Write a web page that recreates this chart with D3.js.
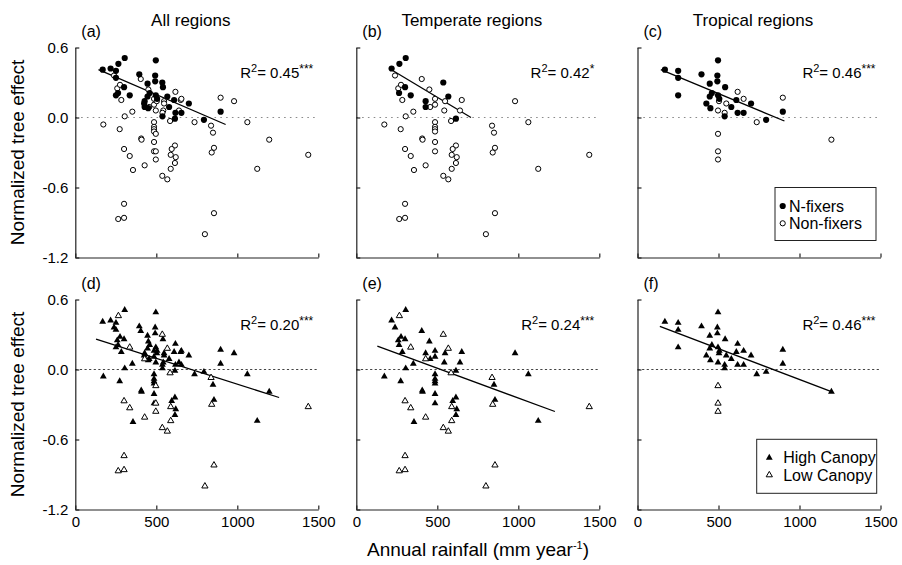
<!DOCTYPE html>
<html><head><meta charset="utf-8">
<script src="https://cdn.jsdelivr.net/npm/d3@7"></script>
<style>body{margin:0;background:#fff} text{font-family:Arial,"Liberation Sans",sans-serif;fill:#000}</style>
</head><body><svg id="c" width="902" height="565"></svg>
<script>
// ---------------- data ----------------
// temperate sites
const teRain   = [218,266,305,537,264,301,336,428,428,568,615,
  239,404,451,259,284,276,486,456,486,548,543,651,640,352,305,585,980,173,274,486,486,486,486,1062,838,850,407,409,486,615,595,589,620,615,589,537,568,301,336,486,428,356,856,842,1123,1438,301,265,301,856,800];
const teEffect = [0.42,0.46,0.51,0.30,0.21,0.26,0.19,0.14,0.09,0.18,-0.01,
  0.36,0.33,0.24,0.25,0.15,0.28,0.16,0.09,0.11,0.14,0.06,0.15,0.06,0.05,0.01,-0.03,0.14,-0.06,-0.10,-0.04,-0.08,-0.10,-0.12,-0.04,-0.07,-0.13,-0.18,-0.19,-0.21,-0.24,-0.27,-0.32,-0.34,-0.39,-0.44,-0.50,-0.53,-0.27,-0.33,-0.29,-0.41,-0.45,-0.26,-0.30,-0.44,-0.32,-0.74,-0.87,-0.86,-0.82,-1.00];
const teFixer  = [1,1,1,1,1,1,1,1,1,1,1,
  0,0,0,0,0,0,0,0,0,0,0,0,0,0,0,0,0,0,0,0,0,0,0,0,0,0,0,0,0,0,0,0,0,0,0,0,0,0,0,0,0,0,0,0,0,0,0,0,0,0,0];
const teCanopy = ['H','L','H','L','H','H','L','H','L','L','H',
  'H','H','H','H','H','H','H','H','H','H','H','H','H','H','H','L','H','H','H','H','H','H','H','H','L','H','H','H','H','H','H','L','H','H','L','L','L','L','L','H','L','H','H','L','H','L','L','L','L','L','L'];
// tropical sites
const trRain   = [169,251,251,251,395,497,493,493,446,541,459,446,425,450,579,610,618,655,701,538,794,897,497,505,
  618,655,548,503,497,538,897,736,497,497,497,1197];
const trEffect = [0.41,0.40,0.34,0.19,0.37,0.49,0.36,0.31,0.29,0.26,0.21,0.18,0.12,0.08,0.09,0.15,0.04,0.04,0.12,0.01,-0.02,0.05,0.19,0.16,
  0.22,0.16,0.12,0.14,0.06,0.04,0.17,-0.04,-0.14,-0.29,-0.36,-0.19];
const trFixer  = [1,1,1,1,1,1,1,1,1,1,1,1,1,1,1,1,1,1,1,1,1,1,1,1,
  0,0,0,0,0,0,0,0,0,0,0,0];
const trCanopy = ['H','H','H','H','H','H','H','H','H','H','H','H','H','H','H','H','H','H','H','H','H','H','H','H',
  'H','H','H','H','H','H','H','H','L','L','L','H'];

const columnTitles = ['All regions','Temperate regions','Tropical regions'];
const panelLetters = ['(a)','(b)','(c)','(d)','(e)','(f)'];
const r2Values = ['0.45','0.42','0.46','0.20','0.24','0.46'];
const r2Stars  = ['***','*','***','***','***','***'];
// fitted regression lines (start/end)
const fitX0 = [143,204,144,128,130,138];
const fitY0 = [0.41,0.42,0.41,0.26,0.20,0.37];
const fitX1 = [928,708,907,1258,1226,1197];
const fitY1 = [-0.06,0.00,-0.03,-0.24,-0.36,-0.19];
const xTicks = [0,500,1000,1500];
const yTicks = [0.6,0.0,-0.6,-1.2];
const legendTop = ['N-fixers','Non-fixers'];
const legendBottom = ['High Canopy','Low Canopy'];

// ---------------- build ----------------
const sites = [];
teRain.forEach((r,i)=>sites.push({rain:r,eff:teEffect[i],fix:teFixer[i],can:teCanopy[i],reg:'Te'}));
trRain.forEach((r,i)=>sites.push({rain:r,eff:trEffect[i],fix:trFixer[i],can:trCanopy[i],reg:'Tr'}));

const svg = d3.select('#c');
const colX = [75.3,356.3,637.5];
const rowY = [47.5,299.5];
const W = 243, H = 210;
const x = d3.scaleLinear().domain([0,1500]).range([0,W]);
const y = d3.scaleLinear().domain([-1.2,0.6]).range([H,0]);
const triFilled = d3.symbol().type(d3.symbolTriangle).size(20)();
const triOpen = d3.symbol().type(d3.symbolTriangle).size(17)();

for (let row=0; row<2; row++) {
  for (let col=0; col<3; col++) {
    const k = row*3+col;
    const g = svg.append('g').attr('transform',`translate(${colX[col]},${rowY[row]})`);
    const data = sites.filter(s => col===0 || (col===1 ? s.reg==='Te' : s.reg==='Tr'));

    // zero reference line
    g.append('line').attr('x1',0).attr('x2',W).attr('y1',y(0)).attr('y2',y(0))
      .attr('stroke', row===0 ? '#8a8a8a' : '#444')
      .attr('stroke-width',1)
      .attr('stroke-dasharray', row===0 ? '1.6,4.2' : '2.2,2.4');

    // axes
    const ya = d3.axisLeft(y).tickValues(yTicks).tickSizeInner(-4).tickSizeOuter(0).tickPadding(7)
      .tickFormat(col===0 ? (d=>d.toFixed(1)) : '');
    const yg = g.append('g').call(ya);
    const xa = d3.axisBottom(x).tickValues(xTicks).tickSizeInner(-4).tickSizeOuter(0).tickPadding(7)
      .tickFormat(row===1 ? (d=>String(d)) : '');
    const xg = g.append('g').attr('transform',`translate(0,${H})`).call(xa);
    [yg,xg].forEach(a=>{
      a.selectAll('path,line').attr('stroke','#222').attr('stroke-width',1.2);
      a.selectAll('text').attr('font-size',15).attr('fill','#000').style('font-family','Arial,"Liberation Sans",sans-serif');
    });

    // regression line
    g.append('line').attr('x1',x(fitX0[k])).attr('y1',y(fitY0[k])).attr('x2',x(fitX1[k])).attr('y2',y(fitY1[k]))
      .attr('stroke','#000').attr('stroke-width',1.3);

    // points
    if (row===0) {
      g.selectAll('circle.o').data(data.filter(d=>!d.fix)).join('circle')
        .attr('cx',d=>x(d.rain)).attr('cy',d=>y(d.eff)).attr('r',2.6)
        .attr('fill','#fff').attr('stroke','#000').attr('stroke-width',1);
      g.selectAll('circle.f').data(data.filter(d=>d.fix)).join('circle')
        .attr('cx',d=>x(d.rain)).attr('cy',d=>y(d.eff)).attr('r',3.1)
        .attr('fill','#000');
    } else {
      g.selectAll('path.h').data(data.filter(d=>d.can==='H')).join('path')
        .attr('d',triFilled).attr('transform',d=>`translate(${x(d.rain)},${y(d.eff)})`).attr('fill','#000');
      g.selectAll('path.l').data(data.filter(d=>d.can==='L')).join('path')
        .attr('d',triOpen).attr('transform',d=>`translate(${x(d.rain)},${y(d.eff)})`)
        .attr('fill','#fff').attr('stroke','#000').attr('stroke-width',1);
    }

    // R2 text
    const t = g.append('text').attr('x',W-5).attr('y',30).attr('text-anchor','end').attr('font-size',15);
    t.append('tspan').text('R');
    t.append('tspan').attr('font-size',11).attr('dy',-6).text('2');
    t.append('tspan').attr('dy',6).text('= ' + r2Values[k]);
    t.append('tspan').attr('font-size',12).attr('dy',-5).text(r2Stars[k]);

    // panel letter
    g.append('text').attr('x',6).attr('y',-10.5).attr('font-size',16).text(panelLetters[k]);
    if (row===0) {
      g.append('text').attr('x',W/2 - 6).attr('y',-22).attr('text-anchor','middle').attr('font-size',17).text(columnTitles[col]);
    }
  }
}

// legends
const lg1 = svg.append('g').attr('transform','translate(775,187.5)');
lg1.append('rect').attr('width',101).attr('height',53).attr('fill','#fff').attr('stroke','#222').attr('stroke-width',1);
lg1.append('circle').attr('cx',7.7).attr('cy',18.5).attr('r',3.1).attr('fill','#000');
lg1.append('circle').attr('cx',7.7).attr('cy',35.8).attr('r',2.6).attr('fill','#fff').attr('stroke','#000');
legendTop.forEach((s,i)=>lg1.append('text').attr('x',14).attr('y',24+i*17.3).attr('font-size',16).text(s));

const lg2 = svg.append('g').attr('transform','translate(756.7,439.3)');
lg2.append('rect').attr('width',120).attr('height',54).attr('fill','#fff').attr('stroke','#222').attr('stroke-width',1);
lg2.append('path').attr('d',triFilled).attr('transform','translate(12.6,18.4)').attr('fill','#000');
lg2.append('path').attr('d',triOpen).attr('transform','translate(12.6,35.7)').attr('fill','#fff').attr('stroke','#000');
legendBottom.forEach((s,i)=>lg2.append('text').attr('x',26.5).attr('y',24+i*17.3).attr('font-size',16).text(s));

// axis titles
[152.5,404.5].forEach(cy=>{
  svg.append('text').attr('transform',`translate(24,${cy}) rotate(-90)`).attr('text-anchor','middle')
    .attr('font-size',19).text('Normalized tree effect');
});
const xt = svg.append('text').attr('x',478).attr('y',556).attr('text-anchor','middle').attr('font-size',19);
xt.append('tspan').text('Annual rainfall (mm year');
xt.append('tspan').attr('font-size',11).attr('dy',-7).text('-1');
xt.append('tspan').attr('dy',7).text(')');
</script></body></html>
